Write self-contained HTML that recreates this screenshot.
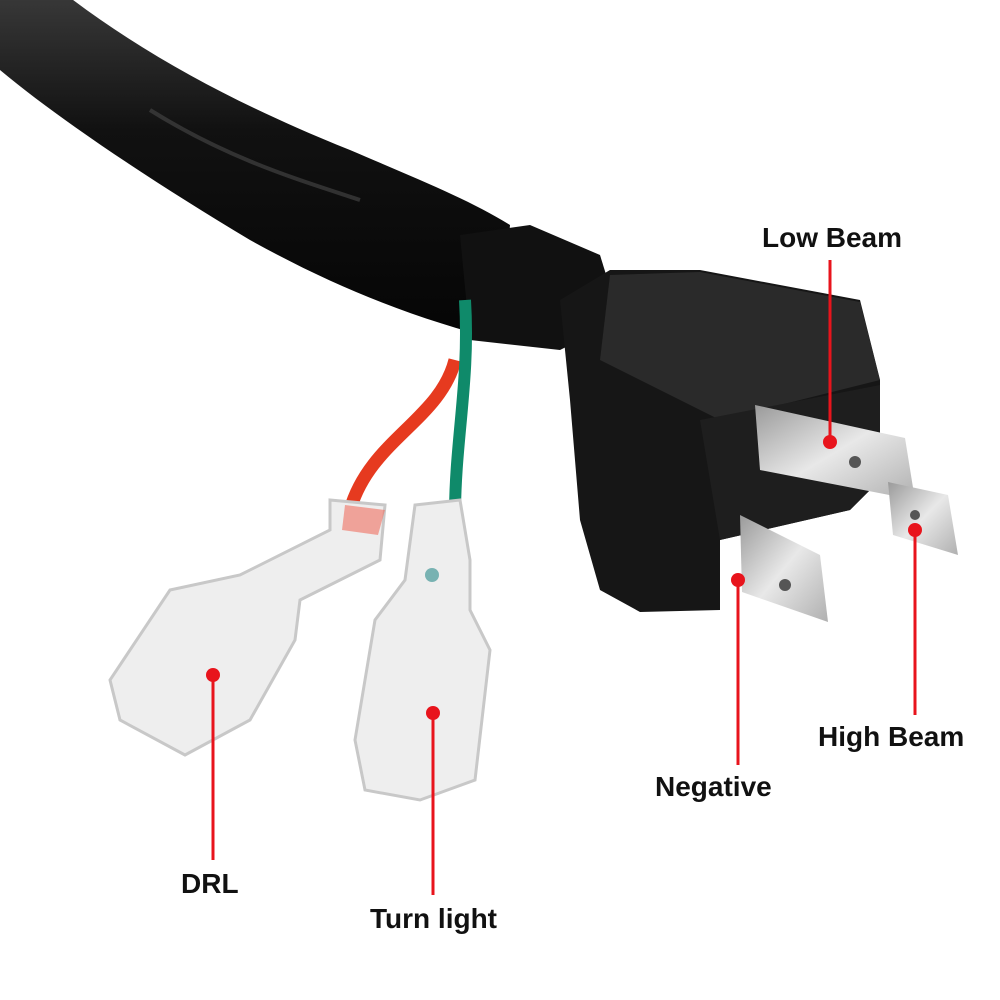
<!DOCTYPE html>
<html><head><meta charset="utf-8"><style>
html,body{margin:0;padding:0;background:#fff;}
svg{display:block}
text{font-family:"Liberation Sans",sans-serif;font-weight:bold;font-size:28px;fill:#111}
</style></head><body>
<svg width="1000" height="1000" viewBox="0 0 1000 1000" xmlns="http://www.w3.org/2000/svg">
<defs>
<linearGradient id="metal" x1="0" y1="0" x2="1" y2="1">
<stop offset="0" stop-color="#9a9a9a"/><stop offset="0.5" stop-color="#e8e8e8"/><stop offset="1" stop-color="#b0b0b0"/></linearGradient>
<linearGradient id="blk" x1="0" y1="0" x2="0" y2="1">
<stop offset="0" stop-color="#3a3a3a"/><stop offset="0.4" stop-color="#111"/><stop offset="1" stop-color="#050505"/></linearGradient>
</defs>
<!-- cable -->
<path d="M0,-10 L60,-10 C150,60 250,110 350,150 C420,180 470,200 510,225 L500,340 C420,320 340,290 250,240 C150,180 60,120 0,70 Z" fill="url(#blk)"/>
<path d="M150,110 C230,160 300,180 360,200" stroke="#4a4a4a" stroke-width="4" fill="none" opacity="0.6"/>
<!-- plug neck -->
<path d="M460,235 L530,225 L600,255 L620,320 L560,350 L470,340 Z" fill="#111"/>
<!-- plug body -->
<path d="M560,300 L610,270 L700,270 L860,300 L880,380 L880,480 L850,510 L720,540 L720,610 L640,612 L600,590 L580,520 L570,400 Z" fill="#161616"/>
<path d="M610,275 L700,272 L860,302 L880,380 L720,420 L600,360 Z" fill="#2a2a2a"/>
<path d="M700,420 L880,385 L880,480 L850,510 L720,540 Z" fill="#1e1e1e"/>
<!-- wires -->
<path d="M455,360 C440,420 370,440 350,510" stroke="#e63a1f" stroke-width="13" fill="none"/>
<path d="M465,300 C470,380 455,440 455,515" stroke="#0f8a6a" stroke-width="12" fill="none"/>
<!-- prongs -->
<polygon points="755,405 905,438 915,500 760,470" fill="url(#metal)"/>
<polygon points="888,482 948,495 958,555 893,535" fill="url(#metal)"/>
<polygon points="740,515 820,555 828,622 742,592" fill="url(#metal)"/>
<circle cx="855" cy="462" r="6" fill="#555"/><circle cx="915" cy="515" r="5" fill="#555"/><circle cx="785" cy="585" r="6" fill="#555"/>
<!-- DRL terminal -->
<path d="M330,500 L385,505 L380,560 L300,600 L295,640 L250,720 L185,755 L120,720 L110,680 L170,590 L240,575 L330,530 Z" fill="#eeeeee" stroke="#c8c8c8" stroke-width="3"/>
<path d="M345,505 L385,510 L378,535 L342,530 Z" fill="#f07060" opacity="0.6"/>
<!-- Turn terminal -->
<path d="M415,505 L460,500 L470,560 L470,610 L490,650 L475,780 L420,800 L365,790 L355,740 L375,620 L405,580 Z" fill="#eeeeee" stroke="#c8c8c8" stroke-width="3"/>
<circle cx="432" cy="575" r="7" fill="#2a8a8a" opacity="0.6"/>
<!-- markers -->
<g stroke="#e8141c" stroke-width="3">
<line x1="830" y1="442" x2="830" y2="260"/>
<line x1="915" y1="530" x2="915" y2="715"/>
<line x1="738" y1="580" x2="738" y2="765"/>
<line x1="213" y1="675" x2="213" y2="860"/>
<line x1="433" y1="713" x2="433" y2="895"/>
</g>
<g fill="#e8141c">
<circle cx="830" cy="442" r="7"/><circle cx="915" cy="530" r="7"/><circle cx="738" cy="580" r="7"/>
<circle cx="213" cy="675" r="7"/><circle cx="433" cy="713" r="7"/>
</g>
<text x="762" y="247">Low Beam</text>
<text x="818" y="746">High Beam</text>
<text x="655" y="796">Negative</text>
<text x="181" y="893">DRL</text>
<text x="370" y="928">Turn light</text>
</svg>
</body></html>
